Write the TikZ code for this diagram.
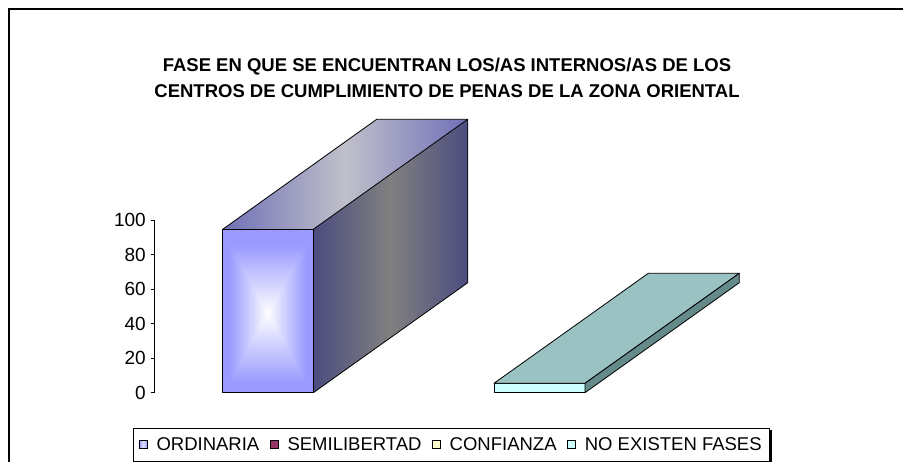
\documentclass[tikz,border=0pt]{standalone}
\usepackage{fontspec}
\setmainfont{Liberation Sans}
\usetikzlibrary{positioning}
\definecolor{barblue}{RGB}{153,153,255}
\definecolor{topblue}{RGB}{112,112,184}
\definecolor{topgray}{RGB}{192,192,202}
\definecolor{sideblue}{RGB}{76,76,128}
\definecolor{sidegray}{RGB}{128,128,128}
\definecolor{flatfront}{RGB}{204,255,255}
\definecolor{flattop}{RGB}{155,194,194}
\definecolor{flatside}{RGB}{100,138,138}
\definecolor{semired}{RGB}{153,51,102}
\definecolor{confyellow}{RGB}{255,255,204}

\begin{document}
\begin{tikzpicture}[x=1pt,y=-1pt,
   face/.style={draw=black,line width=0.8pt,line join=round},
   ticklbl/.style={font=\fontsize{19}{19}\selectfont,anchor=east,inner sep=0pt},
   lgdkey/.style={draw=black,line width=0.8pt,minimum size=8.5pt,inner sep=0pt},
   lgdtext/.style={font=\fontsize{18.5}{19}\selectfont,inner sep=0pt},
   node distance=8.5pt]
  \useasboundingbox (0,0) rectangle (903,462);
  \fill[white] (0,0) rectangle (903,462);
  \draw[line width=2pt] (9,462) -- (9,9) -- (903,9);          % chart frame

  \node[font=\bfseries\fontsize{18.5}{26}\selectfont,align=center] (title) at (447,78)
    {FASE EN QUE SE ENCUENTRAN LOS/AS INTERNOS/AS DE LOS\\
     CENTROS DE CUMPLIMIENTO DE PENAS DE LA ZONA ORIENTAL};   % title

  \draw[line width=0.8pt] (154.5,220) -- (154.5,392.7);        % value axis
  \foreach \v/\yy in {0/392.7,20/358.2,40/323.7,60/289.1,80/254.6,100/220}{
    \draw[line width=0.8pt] (150.5,\yy) -- (154.5,\yy);        % tick
    \node[ticklbl] (tick\v) at (146,\yy) {\v};                 % tick label
  }

  % ORDINARIA bar
  \fill[barblue] (222.7,229.3) rectangle (313.3,392.7);        % front face
  \foreach \i in {0,...,40}{
    \pgfmathsetmacro\s{0.86*(1-\i/40)}
    \pgfmathtruncatemacro\m{100*\i/40}
    \fill[white!\m!barblue] ({268-45.3*\s},{314-81.7*\s}) rectangle ({268+45.3*\s},{314+81.7*\s});
  }
  \shade[left color=topblue,right color=topblue,middle color=topgray]
    (222.7,229.3) -- (376.7,119.3) -- (467.7,119.3) -- (313.3,229.3) -- cycle;   % top face
  \shade[left color=sideblue,right color=sideblue,middle color=sidegray]
    (313.3,229.3) -- (467.7,119.3) -- (467.7,282.7) -- (313.3,392.7) -- cycle;   % side face
  \draw[face] (222.7,229.3) rectangle (313.3,392.7);
  \draw[face] (222.7,229.3) -- (376.7,119.3) -- (467.7,119.3) -- (313.3,229.3);
  \draw[face] (467.7,119.3) -- (467.7,282.7) -- (313.3,392.7);

  % NO EXISTEN FASES bar
  \draw[face,fill=flatfront] (494,383.3) rectangle (585,392.7);                          % front face
  \draw[face,fill=flattop] (494,383.3) -- (648.3,273.3) -- (739.3,273.3) -- (585,383.3) -- cycle;  % top face
  \draw[face,fill=flatside] (585,383.3) -- (739.3,273.3) -- (739.3,282.7) -- (585,392.7) -- cycle; % side face

  % legend
  \draw[line width=0.8pt] (133,428) rectangle (769,461);
  \draw[line width=2.2pt] (770.5,430) -- (770.5,462);
  \node[lgdkey,left color=barblue,right color=barblue,middle color=white!70!barblue] (key1) at (143.2,444.5) {};
  \node[lgdtext,right=of key1] (lbl1) {ORDINARIA};
  \node[lgdkey,fill=semired,right=10pt of lbl1] (key2) {};
  \node[lgdtext,right=of key2] (lbl2) {SEMILIBERTAD};
  \node[lgdkey,fill=confyellow,right=10pt of lbl2] (key3) {};
  \node[lgdtext,right=of key3] (lbl3) {CONFIANZA};
  \node[lgdkey,fill=flatfront,right=10pt of lbl3] (key4) {};
  \node[lgdtext,right=of key4] (lbl4) {NO EXISTEN FASES};
\end{tikzpicture}
\end{document}
